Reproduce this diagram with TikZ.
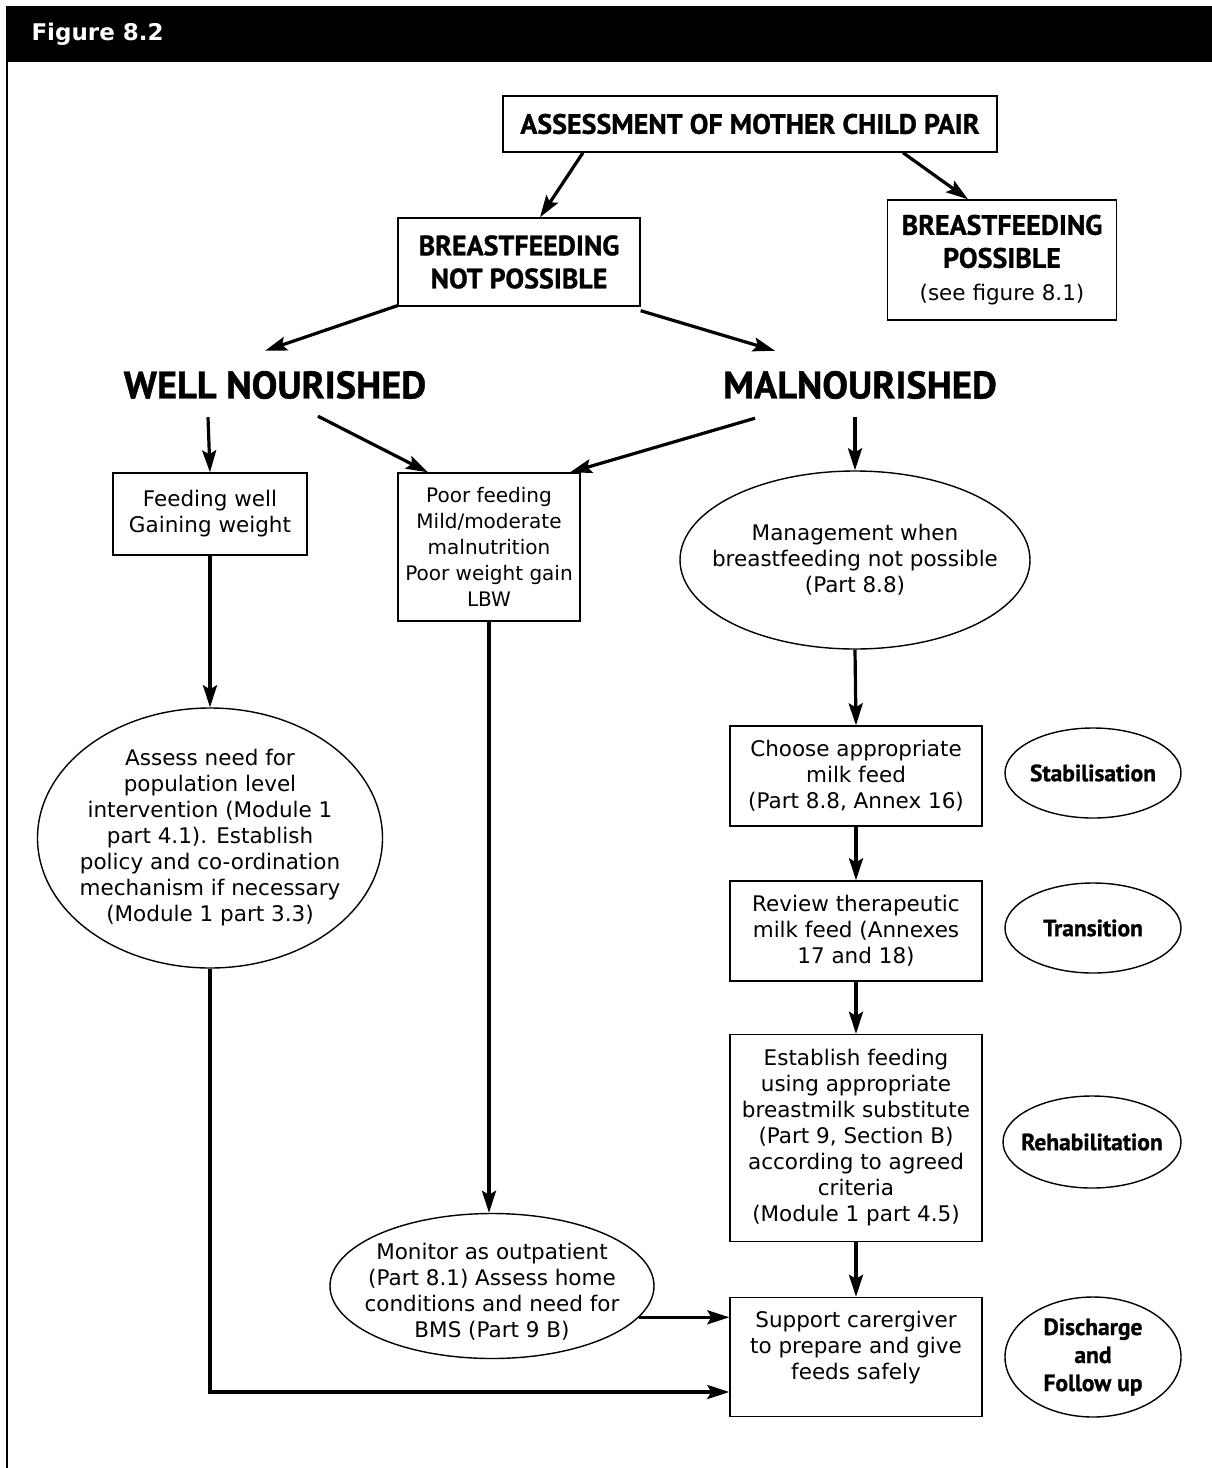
\documentclass[tikz,border=0pt]{standalone}
\usepackage{fontspec}
\setmainfont{DejaVu Sans}
\newfontfamily\headfont{PT Sans}[BoldFeatures={FakeBold=1}]
\usetikzlibrary{shapes.geometric,arrows.meta}
\newcommand\txtfont{\fontsize{21.5}{26}\selectfont}
\newcommand\hdfont{\headfont\bfseries\fontsize{28}{33}\selectfont}

\begin{document}
\begin{tikzpicture}[x=1pt, y=-1pt,
  box/.style = {draw, line width=1.4pt, align=center, font=\txtfont, inner sep=0pt},
  head/.style = {align=center, font=\hdfont},
  big/.style = {font=\headfont\bfseries\fontsize{38.5}{44}\selectfont, inner sep=0pt},
  oval/.style = {draw, ellipse, line width=1.4pt, inner sep=0pt},
  note/.style = {oval, label={[align=center, font=\txtfont]center:#1}},
  phase/.style = {oval, minimum width=176pt, minimum height=90pt,
    label={[align=center, font=\headfont\bfseries\fontsize{23.5}{28}\selectfont]center:#1}},
  arr/.style = {line width=3.2pt, -{Stealth[length=22pt, width=14pt, inset=4pt]}}]
  \useasboundingbox (0,0) rectangle (1212,1468);
  \fill (6,6) rectangle (1212,62);
  \node[anchor=west, text=white, font=\bfseries\fontsize{23}{27}\selectfont] (title) at (28,34) {Figure 8.2};
  \draw[line width=2pt] (7,62) -- (7,1468);

  \node[box, head, minimum width=494pt, minimum height=56pt] (assess) at (750,124) {ASSESSMENT OF MOTHER CHILD PAIR};
  \node[box, head, minimum width=242pt, minimum height=88pt] (bfnot) at (519,262) {BREASTFEEDING\\NOT POSSIBLE};
  \node[box, head, minimum width=229pt, minimum height=120pt] (bfyes) at (1002,260) {BREASTFEEDING\\POSSIBLE\\{\normalfont\txtfont (see figure 8.1)}};

  \node[big] (well) at (275,385) {WELL NOURISHED};
  \node[big] (mal) at (860,385) {MALNOURISHED};

  \node[box, minimum width=194pt, minimum height=82pt] (feedwell) at (210,514) {Feeding well\\Gaining weight};
  \node[box, minimum width=182pt, minimum height=148pt, font=\fontsize{20}{26}\selectfont] (poor) at (489,547) {Poor feeding\\Mild/moderate\\malnutrition\\Poor weight gain\\LBW};
  \node[note={{Management when\\breastfeeding not possible\\(Part 8.8)}}, minimum width=350pt, minimum height=178pt] (mgmt) at (855,560) {};

  \node[note={{Assess need for\\population level\\intervention (Module 1\\part 4.1). Establish\\policy and co-ordination\\mechanism if necessary\\(Module 1 part 3.3)}}, minimum width=345pt, minimum height=260pt] (need) at (210,838) {};

  \node[box, minimum width=252pt, minimum height=100pt] (choose) at (856,776) {Choose appropriate\\milk feed\\(Part 8.8, Annex 16)};
  \node[phase={Stabilisation}] (stab) at (1093,773) {};
  \node[box, minimum width=252pt, minimum height=100pt] (review) at (856,931) {Review therapeutic\\milk feed (Annexes\\17 and 18)};
  \node[phase={Transition}] (trans) at (1093,928) {};
  \node[box, minimum width=252pt, minimum height=207pt] (establish) at (856,1138) {Establish feeding\\using appropriate\\breastmilk substitute\\(Part 9, Section B)\\according to agreed\\criteria\\(Module 1 part 4.5)};
  \node[phase={Rehabilitation}, minimum width=178pt, minimum height=92pt] (rehab) at (1092,1142) {};

  \node[oval, minimum width=324pt, minimum height=145pt,
    label={[align=center, font=\txtfont, yshift=-6pt]center:{Monitor as outpatient\\(Part 8.1) Assess home\\conditions and need for\\BMS (Part 9 B)}}] (monitor) at (492,1286) {};
  \node[box, minimum width=252pt, minimum height=119pt,
    label={[align=center, font=\txtfont, yshift=9pt]center:{Support carergiver\\to prepare and give\\feeds safely}}] (support) at (856,1357) {};
  \node[phase={{Discharge\\and\\Follow up}}, minimum height=120pt] (disch) at (1093,1357) {};

  \draw[arr] ([xshift=-167pt]assess.south) -- ([xshift=21pt]bfnot.north);
  \draw[arr] ([xshift=153pt]assess.south) -- ([xshift=-34pt]bfyes.north);
  \draw[arr] ([yshift=1pt]bfnot.south west) -- ([xshift=-10pt, yshift=20pt]well.north);
  \draw[arr] ([yshift=-4pt]bfnot.south east) -- ([xshift=-85pt, yshift=20pt]mal.north);
  \draw[arr] ([xshift=-67pt, yshift=-18pt]well.south) -- (feedwell.north);
  \draw[arr] ([xshift=43pt, yshift=-17pt]well.south) -- ([xshift=-61pt]poor.north);
  \draw[arr] ([xshift=-105pt, yshift=-19pt]mal.south) -- ([xshift=81pt]poor.north);
  \draw[arr] ([xshift=-5pt, yshift=-18pt]mal.south) -- (mgmt.north);
  \draw[arr] (feedwell.south) -- (need.north);
  \draw[arr] (mgmt.south) -- (choose.north);
  \draw[arr] (choose.south) -- (review.north);
  \draw[arr] (review.south) -- (establish.north);
  \draw[arr] (establish.south) -- (support.north);
  \draw[arr] (poor.south) -- (poor.south |- monitor.north);
  \draw[arr] (monitor.-12) -- (monitor.-12 -| support.west);
  \draw[arr] (need.south) |- ([yshift=-35pt]support.west);
\end{tikzpicture}
\end{document}
